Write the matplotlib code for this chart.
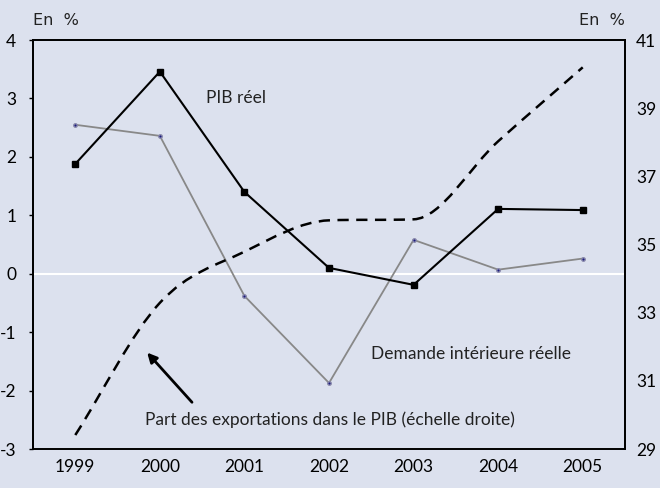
import matplotlib
matplotlib.use('Agg')
import matplotlib.pyplot as plt
import numpy as np
from matplotlib.path import Path
from matplotlib.patches import PathPatch

years = [1999, 2000, 2001, 2002, 2003, 2004, 2005]
pib_reel = [1.88, 3.46, 1.40, 0.10, -0.19, 1.11, 1.09]
demande_int = [2.55, 2.36, -0.38, -1.87, 0.58, 0.07, 0.26]
part_export = [29.41, 33.29, 34.79, 35.71, 35.74, 38.03, 40.2]

left_ticks = [-3, -2, -1, 0, 1, 2, 3, 4]
right_ticks = [29, 31, 33, 35, 37, 39, 41]

bg = '#dce1ee'
plt.rcParams['font.family'] = ['Lato', 'DejaVu Sans']

fig = plt.figure(figsize=(6.6, 4.88), dpi=100, facecolor=bg)
ax = fig.add_axes([0.05, 0.0799, 0.897, 0.838], facecolor=bg)
ax2 = ax.twinx()

ax.axhline(0, color='white', lw=1.5, zorder=1)
ax.plot(years, demande_int, color='#888888', lw=1.3, marker='o', ms=2.5,
        mfc='#1a1a80', mec='#8888aa', zorder=3)
ax.plot(years, pib_reel, color='black', lw=1.5, marker='s', ms=4.5, zorder=4)

# smoothed dashed curve: monotone hermite -> bezier (no overshoot)
x = np.array(years, dtype=float)
y = np.array(part_export, dtype=float)
d = np.diff(y) / np.diff(x)
m = np.empty_like(y)
m[0], m[-1] = d[0], d[-1]
for i in range(1, len(y) - 1):
    m[i] = min((d[i - 1] + d[i]) / 2, 3 * min(d[i - 1], d[i]))
verts = [(x[0], y[0])]
codes = [Path.MOVETO]
for i in range(len(x) - 1):
    h = x[i + 1] - x[i]
    verts += [(x[i] + h / 3, y[i] + m[i] * h / 3),
              (x[i + 1] - h / 3, y[i + 1] - m[i + 1] * h / 3),
              (x[i + 1], y[i + 1])]
    codes += [Path.CURVE4] * 3
patch = PathPatch(Path(verts, codes), fill=False, color='black', lw=1.8,
                  linestyle=(0, (4.5, 3)), zorder=2)
ax2.add_patch(patch)

ax.set_xlim(1998.5, 2005.5)
ax.set_ylim(-3, 4)
ax2.set_ylim(29, 41)
ax.set_xticks(years)
ax.set_yticks(left_ticks)
ax2.set_yticks(right_ticks)
ax.set_xticklabels([str(v) for v in years], fontsize=12.5)
ax.set_yticklabels([str(t) for t in left_ticks], fontsize=12.5)
ax2.set_yticklabels([str(t) for t in right_ticks], fontsize=12.5)
ax.tick_params(axis='x', length=0, pad=7)
ax.tick_params(axis='y', length=3, width=1, direction='out', pad=9)
ax2.tick_params(axis='y', length=0, pad=8)

for a in (ax, ax2):
    for s in a.spines.values():
        s.set_color('black')
        s.set_linewidth(1.3)
ax.spines['bottom'].set_color('#333333')

ax.text(0.0, 1.03, 'En  %', transform=ax.transAxes, ha='left', va='bottom',
        fontsize=11.5, family=['Liberation Sans Narrow', 'DejaVu Sans'], color='#222222')
ax.text(1.0, 1.03, 'En  %', transform=ax.transAxes, ha='right', va='bottom',
        fontsize=11.5, family=['Liberation Sans Narrow', 'DejaVu Sans'], color='#222222')

ax.text(2000.55, 3.0, 'PIB réel', fontsize=12.5, color='#222222', va='center')
ax.text(2002.5, -1.38, 'Demande intérieure réelle', fontsize=12.5, color='#222222', va='center')
ax.text(1999.82, -2.5, 'Part des exportations dans le PIB (échelle droite)',
        fontsize=12.5, color='#222222', va='center')
ax.annotate('', xy=(1999.85, -1.35), xytext=(2000.38, -2.2),
            arrowprops=dict(arrowstyle='-|>', color='black', lw=2,
                            mutation_scale=14, shrinkA=0, shrinkB=0))

fig.savefig('out.png', dpi=100, facecolor=bg)
